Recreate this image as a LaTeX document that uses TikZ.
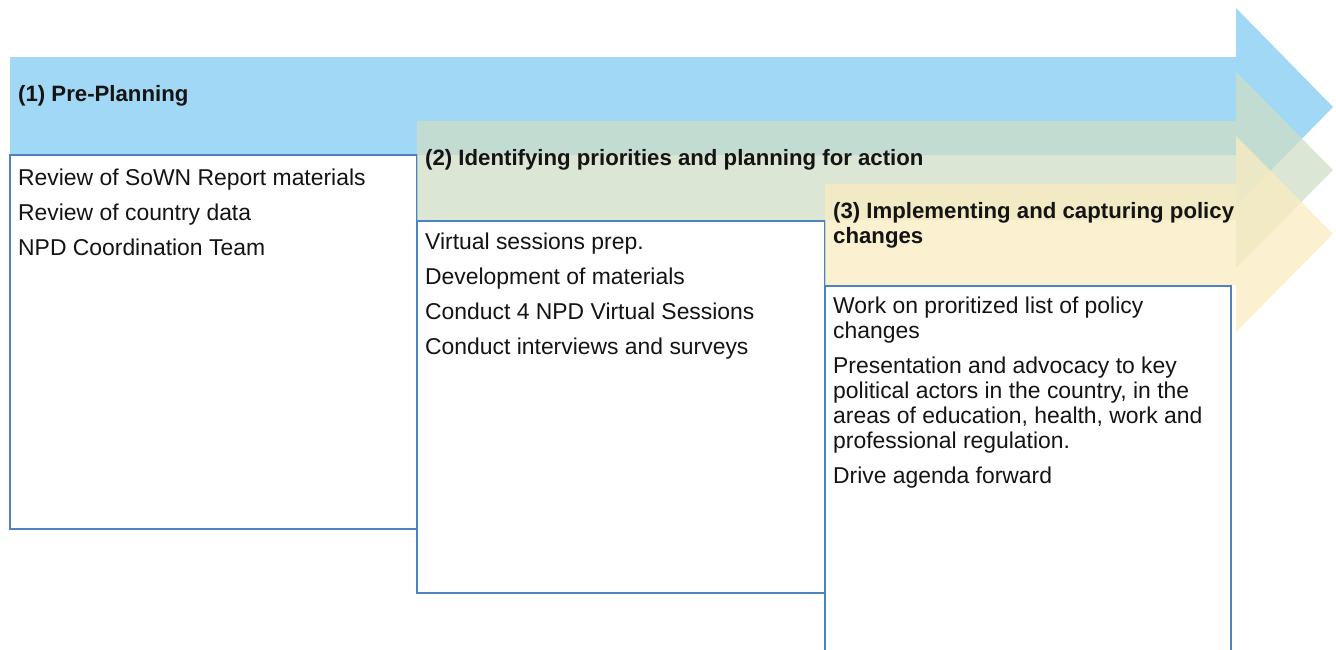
\documentclass[tikz,border=0pt]{standalone}
\usepackage{fontspec}
\setmainfont{Liberation Sans}

\definecolor{phaseblue}{RGB}{160,216,245}
\definecolor{phasegreen}{RGB}{208,222,199}
\definecolor{phaseyellow}{RGB}{250,236,192}
\definecolor{boxline}{RGB}{79,129,189}
\definecolor{inktext}{RGB}{20,20,20}

\begin{document}
\begin{tikzpicture}[x=1pt, y=-1pt,
  phasearrow/.style={draw=none, fill opacity=0.75},
  stepbox/.style={draw=boxline, line width=2pt, fill=white},
  phasetitle/.style={font=\fontsize{22.2}{25}\selectfont\bfseries, text=inktext, anchor=north west, inner sep=0pt, align=left},
  tasklist/.style={font=\fontsize{22.9}{25}\selectfont, text=inktext, anchor=north west, inner sep=0pt, align=left}]
  \useasboundingbox (0,0) rectangle (1336,649);
  \clip (0,0) rectangle (1336,649);

  % phase 1
  \fill[phaseblue] (10,57) -- (1236,57) -- (1236,8) -- (1333,107) -- (1236,206) -- (1236,155) -- (10,155) -- cycle;
  \node[phasetitle] (pretitle) at (18,85) {(1) Pre-Planning};
  \draw[stepbox] (10,155) rectangle (417,529);
  \node[tasklist] (prelist) at (18,168.5) {Review of SoWN Report materials\\[10pt]
    Review of country data\\[10pt]
    NPD Coordination Team};

  % phase 2
  \fill[phasearrow, phasegreen] (417,121) -- (1236,121) -- (1236,72) -- (1333,170) -- (1236,268) -- (1236,220) -- (417,220) -- cycle;
  \node[phasetitle] (idtitle) at (425,149) {(2) Identifying priorities and planning for action};
  \draw[stepbox] (417,221) rectangle (825,593);
  \node[tasklist] (idlist) at (425,232.5) {Virtual sessions prep.\\[10pt]
    Development of materials\\[10pt]
    Conduct 4 NPD Virtual Sessions\\[10pt]
    Conduct interviews and surveys};

  % phase 3
  \fill[phasearrow, phaseyellow] (825,184) -- (1236,184) -- (1236,136) -- (1333,234) -- (1236,332) -- (1236,285) -- (825,285) -- cycle;
  \node[phasetitle] (imptitle) at (833,202) {(3) Implementing and capturing policy\\changes};
  \draw[stepbox] (825,286) rectangle (1231,680);
  \node[tasklist] (implist) at (833,296.5) {Work on proritized list of policy\\changes\\[10pt]
    Presentation and advocacy to key\\political actors in the country, in the\\areas of education, health, work and\\professional regulation.\\[10pt]
    Drive agenda forward};
\end{tikzpicture}
\end{document}
